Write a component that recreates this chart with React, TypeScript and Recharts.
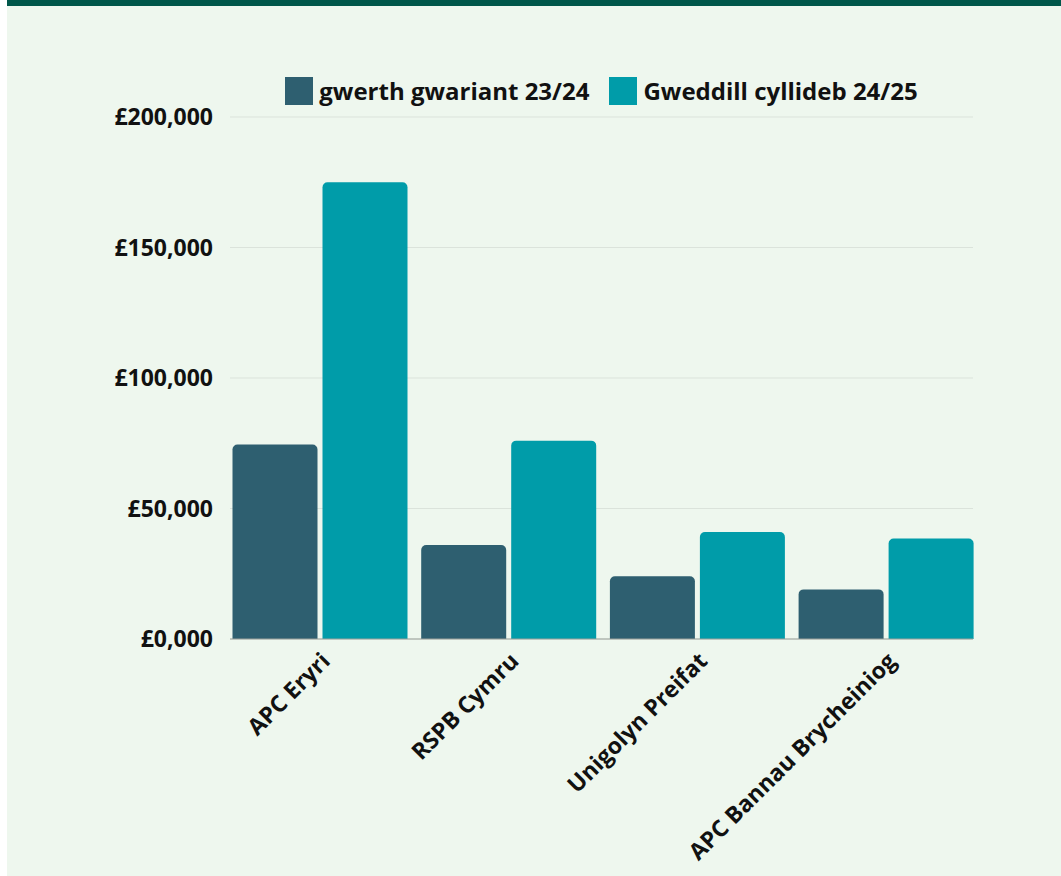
import { BarChart, Bar, CartesianGrid, XAxis, YAxis } from "recharts";

const categories = ["APC Eryri", "RSPB Cymru", "Unigolyn Preifat", "APC Bannau Brycheiniog"];
const spend2324 = [74500, 36000, 24000, 19000];
const remaining2425 = [175000, 76000, 41000, 38500];
const seriesNames = ["gwerth gwariant 23/24", "Gweddill cyllideb 24/25"];
const seriesColors = ["#2e5f70", "#009ca9"];
const yTicks = [0, 50000, 100000, 150000, 200000];
const yTickLabels = ["£0,000", "£50,000", "£100,000", "£150,000", "£200,000"];

const data = categories.map((name, i) => ({
  name,
  spend: spend2324[i],
  remaining: remaining2425[i],
}));

const font = "'Open Sans', 'Noto Sans', sans-serif";

export default function App() {
  return (
    <div
      style={{
        position: "absolute",
        left: 7,
        top: 0,
        width: 1054,
        height: 876,
        background: "#eef7ee",
        fontFamily: font,
        overflow: "hidden",
      }}
    >
      <div style={{ height: 6, background: "#00574a" }} />

      {/* legend, drawn as html so it doesn't push the plot down */}
      <div
        style={{
          position: "absolute",
          top: 77,
          left: 223,
          width: 743,
          display: "flex",
          justifyContent: "center",
          gap: 20,
          fontWeight: 700,
          fontSize: 24,
          color: "#111",
        }}
      >
        {seriesNames.map((s, i) => (
          <div key={s} style={{ display: "flex", alignItems: "center", height: 28 }}>
            <div style={{ width: 28, height: 28, background: seriesColors[i], marginRight: 6 }} />
            <span style={{ lineHeight: "28px" }}>{s}</span>
          </div>
        ))}
      </div>

      <BarChart
        width={1054}
        height={876}
        data={data}
        margin={{ top: 117, right: 88, bottom: 37, left: 0 }}
        barSize={85}
        barGap={5}
        style={{ position: "absolute", top: 0, left: 0 }}
      >
        <CartesianGrid vertical={false} stroke="#dbe3db" />
        <XAxis
          dataKey="name"
          interval={0}
          height={200}
          angle={-45}
          textAnchor="end"
          padding={{ left: -4.5, right: -7.3 }}
          tickLine={false}
          axisLine={{ stroke: "#9aa09a" }}
          tick={{ fill: "#111", fontSize: 23, fontWeight: 700, fontFamily: font }}
          tickMargin={6}
        />
        <YAxis
          width={223}
          domain={[0, 200000]}
          ticks={yTicks}
          interval={0}
          tickFormatter={(v: number) => yTickLabels[yTicks.indexOf(v)]}
          axisLine={false}
          tickLine={false}
          tickMargin={11}
          tick={{ fill: "#111", fontSize: 23, fontWeight: 700, fontFamily: font }}
        />
        <Bar dataKey="spend" name={seriesNames[0]} fill={seriesColors[0]} radius={[5, 5, 0, 0]} isAnimationActive={false} />
        <Bar dataKey="remaining" name={seriesNames[1]} fill={seriesColors[1]} radius={[5, 5, 0, 0]} isAnimationActive={false} />
      </BarChart>
    </div>
  );
}
